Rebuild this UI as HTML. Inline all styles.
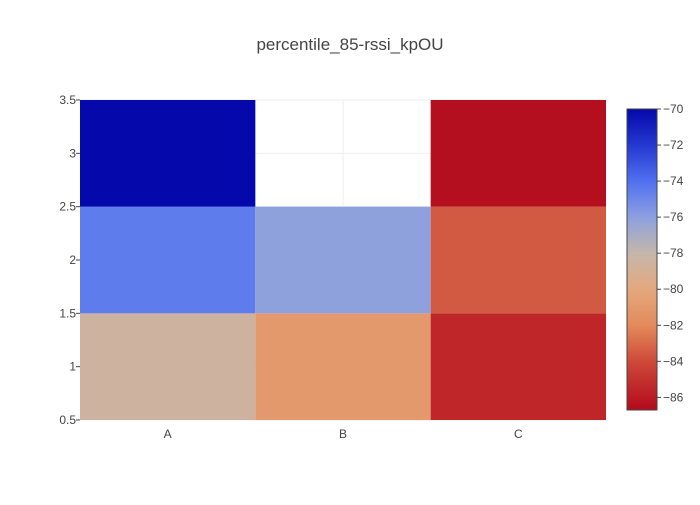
<!DOCTYPE html>
<html><head><meta charset="utf-8"><style>
body{margin:0;background:#fff;font-family:"Liberation Sans",sans-serif}
svg text{font-family:"Liberation Sans",sans-serif;fill:#444}
</style></head><body>
<svg id="chart" width="700" height="500">
<rect width="700" height="500" fill="#fff"/>
<text x="350" y="50" text-anchor="middle" font-size="17">percentile_85-rssi_kpOU</text>
<g id="grid"></g><g id="cells"></g><g id="axes"></g><g id="cbar"></g>
</svg>
<script>
const xCats=["A","B","C"];
const yCats=[1,2,3];
const zA=[-78.5,-74.5,-70];
const zB=[-81,-76.1,null];
const zC=[-85.5,-83.5,-86.5];
const yTicks=[0.5,1,1.5,2,2.5,3,3.5];
const cbTicks=[-70,-72,-74,-76,-78,-80,-82,-84,-86];
const zMin=-86.7,zMax=-70;
const stops=[[-86.7,[178,10,28]],[-84,[206,74,58]],[-82,[227,138,90]],[-80,[228,168,126]],[-78,[197,183,170]],[-76,[140,160,224]],[-74,[80,112,240]],[-72,[36,56,208]],[-70,[5,8,170]]];
function col(v){for(let i=0;i<stops.length-1;i++){const a=stops[i],b=stops[i+1];if(v<=b[0]){const t=Math.max(0,(v-a[0])/(b[0]-a[0]));return 'rgb('+a[1].map((c,k)=>Math.round(c+(b[1][k]-c)*t)).join(',')+')';}}return 'rgb(5,8,170)';}
const L=80,R=606,T=100,B=420;
const xs=i=>L+(R-L)/3*i;
const ys=v=>B-(v-0.5)/3*(B-T);
const NS='http://www.w3.org/2000/svg';
function mk(t,a,p){const e=document.createElementNS(NS,t);for(const k in a)e.setAttribute(k,a[k]);p.appendChild(e);return e;}
const grid=document.getElementById('grid'),cells=document.getElementById('cells'),axes=document.getElementById('axes'),cbar=document.getElementById('cbar');
xCats.forEach((c,i)=>{const l=mk('line',{x1:xs(i+0.5),x2:xs(i+0.5),y1:T,y2:B,stroke:'#eee'},grid);

});
yTicks.forEach(t=>{const l=mk('line',{x1:L,x2:R,y1:ys(t),y2:ys(t),stroke:'#eee'},grid);

});
const series=[zA,zB,zC];
series.forEach((s,i)=>s.forEach((v,j)=>{if(v===null)return;
const r=mk('rect',{x:xs(i),y:ys(yCats[j]+0.5),width:xs(1)-xs(0),height:ys(0.5)-ys(1.5),fill:col(v)},cells);

}));
xCats.forEach((c,i)=>{const t=mk('text',{x:xs(i+0.5),y:B+18,'text-anchor':'middle','font-size':12},axes);t.textContent=c;

});
yTicks.forEach(v=>{const t=mk('text',{x:L-4,y:ys(v)+4,'text-anchor':'end','font-size':12},axes);t.textContent=v;


mk('line',{x1:L-4,x2:L,y1:ys(v),y2:ys(v),stroke:'#444'},axes);});
const CT=109,CB=410,CX=627,CW=30;
const cy=v=>CB-(v-zMin)/(zMax-zMin)*(CB-CT);
const defs=mk('defs',{},cbar);const g=mk('linearGradient',{id:'cg',x1:0,y1:1,x2:0,y2:0},defs);
stops.forEach(s=>mk('stop',{offset:(s[0]-zMin)/(zMax-zMin),'stop-color':'rgb('+s[1].join(',')+')'},g));
const cr=mk('rect',{x:CX,y:CT,width:CW,height:CB-CT,fill:'url(#cg)',stroke:'#444','stroke-width':1},cbar);


cbTicks.forEach(v=>{mk('line',{x1:CX+CW,x2:CX+CW+4,y1:cy(v),y2:cy(v),stroke:'#444'},cbar);
const t=mk('text',{x:CX+CW+6,y:cy(v)+4,'font-size':12},cbar);t.textContent='\u2212'+Math.abs(v);

});
</script>
</body></html>
